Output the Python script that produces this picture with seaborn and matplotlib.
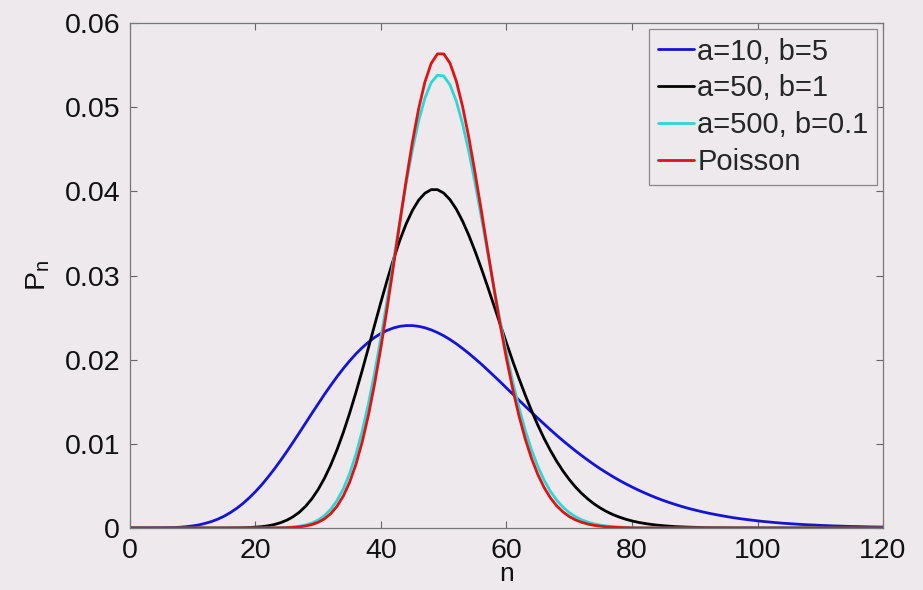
import numpy as np
import pandas as pd
import matplotlib
matplotlib.use("Agg")
import matplotlib.pyplot as plt
from matplotlib.lines import Line2D
import seaborn as sns

# probabilities read at even and odd n (units of 1e-5)
n_even = list(range(0, 121, 2))
n_odd = list(range(1, 120, 2))

a10_b5_even = [0,0,1,3,9,25,55,105,183,291,432,604,802,1020,1248,1476,1695,1895,2068,2208,2312,2377,2405,2396,2354,2284,2189,2074,1946,1807,1663,1518,1374,1235,1101,976,859,751,654,565,487,417,355,301,254,214,179,150,124,103,85,70,57,47,38,31,25,20,17,13,11]
a10_b5_odd = [0,0,1,5,16,37,77,140,233,358,514,700,909,1133,1363,1588,1798,1985,2142,2265,2349,2396,2405,2379,2322,2239,2133,2011,1877,1736,1591,1446,1304,1167,1037,916,804,701,608,525,451,385,327,277,233,196,164,137,113,94,77,63,52,42,35,28,23,18,15,12]

a50_b1_even = [0,0,0,0,0,0,0,0,1,3,10,26,63,134,259,459,749,1136,1609,2141,2687,3195,3612,3895,4020,3979,3789,3477,3082,2643,2198,1774,1392,1063,792,576,409,284,193,129,84,54,34,21,13,8,4,3,1,1,0,0,0,0,0,0,0,0,0,0,0]
a50_b1_odd = [0,0,0,0,0,0,0,0,2,6,16,41,93,188,348,592,931,1363,1870,2415,2949,3418,3772,3978,4020,3901,3646,3287,2866,2419,1981,1577,1221,921,677,486,342,235,158,104,67,43,27,16,10,6,3,2,1,1,0,0,0,0,0,0,0,0,0,0]

a500_b01_even = [0,0,0,0,0,0,0,0,0,0,0,1,3,12,36,95,223,465,872,1476,2267,3178,4086,4837,5292,5370,5072,4471,3688,2855,2079,1427,926,568,331,183,96,48,23,11,5,2,1,0,0,0,0,0,0,0,0,0,0,0,0,0,0,0,0,0,0]
a500_b01_odd = [0,0,0,0,0,0,0,0,0,0,0,2,6,21,59,148,327,646,1149,1851,2714,3642,4491,5108,5380,5265,4802,4094,3271,2455,1735,1158,730,436,248,134,69,34,16,7,3,1,0,0,0,0,0,0,0,0,0,0,0,0,0,0,0,0,0,0]

poisson_even = [0,0,0,0,0,0,0,0,0,0,0,0,2,7,24,68,171,380,755,1342,2150,3121,4124,4981,5520,5633,5310,4638,3765,2847,2010,1329,824,480,263,136,67,31,14,6,2,1,0,0,0,0,0,0,0,0,0,0,0,0,0,0,0,0,0,0,0]
poisson_odd = [0,0,0,0,0,0,0,0,0,0,0,1,4,13,41,109,259,543,1020,1720,2622,3629,4583,5299,5633,5522,5009,4216,3302,2413,1648,1055,634,358,191,96,46,21,9,4,1,1,0,0,0,0,0,0,0,0,0,0,0,0,0,0,0,0,0,0]

labels = ["a=10, b=5", "a=50, b=1", "a=500, b=0.1", "Poisson"]
colors = ["#1414d8", "#000000", "#2ed6d6", "#e01212"]
xticks = [0, 20, 40, 60, 80, 100, 120]
yticks = [0, 0.01, 0.02, 0.03, 0.04, 0.05, 0.06]
ytick_labels = ["0", "0.01", "0.02", "0.03", "0.04", "0.05", "0.06"]

series = [(a10_b5_even, a10_b5_odd), (a50_b1_even, a50_b1_odd),
          (a500_b01_even, a500_b01_odd), (poisson_even, poisson_odd)]
rows = []
for lab, (ev, od) in zip(labels, series):
    for n, v in zip(n_even, ev):
        rows.append({"n": n, "P": v * 1e-5, "series": lab})
    for n, v in zip(n_odd, od):
        rows.append({"n": n, "P": v * 1e-5, "series": lab})
df = pd.DataFrame(rows).sort_values(["series", "n"]).reset_index(drop=True)

bg = "#ede9ed"
sns.set_theme(style="white")
plt.rcParams["font.family"] = ["Liberation Sans", "DejaVu Sans"]

fig = plt.figure(figsize=(9.23, 5.90), dpi=100, facecolor=bg)
ax = fig.add_axes([0.1408, 0.1051, 0.8159, 0.8559])
ax.set_facecolor(bg)

sns.lineplot(data=df, x="n", y="P", hue="series", hue_order=labels,
             palette=colors, linewidth=2.0, ax=ax, legend=False, sort=True)

ax.set_xlim(0, 120)
ax.set_ylim(0, 0.06)
ax.set_xticks(xticks)
ax.set_xticklabels([str(t) for t in xticks])
ax.set_yticks(yticks)
ax.set_yticklabels(ytick_labels)
ax.tick_params(direction="in", length=5, width=0.8, color="#666666",
               labelsize=20.5, labelcolor="#111111", top=True, right=True,
               bottom=True, left=True)
ax.tick_params(axis="x", pad=7)
ax.tick_params(axis="y", pad=7)
for s in ax.spines.values():
    s.set_color("#777777")
    s.set_linewidth(0.9)

ax.set_xlabel("n", fontsize=19, color="#111111", labelpad=-1)
ax.set_ylabel(r"P$_\mathregular{n}$", fontsize=20.5, color="#111111", labelpad=9)

handles = [Line2D([0], [0], color=c, lw=2.0) for c in colors]
leg = ax.legend(handles, labels, loc="upper right", fontsize=21, frameon=True,
                fancybox=False, handlelength=1.25, handletextpad=0.1,
                labelspacing=0.3, borderpad=0.3, borderaxespad=0.2)
leg.get_frame().set_edgecolor("#888888")
leg.get_frame().set_facecolor(bg)
leg.get_frame().set_linewidth(0.9)
leg.get_frame().set_alpha(1.0)

fig.savefig("out.png", dpi=100, facecolor=bg)
